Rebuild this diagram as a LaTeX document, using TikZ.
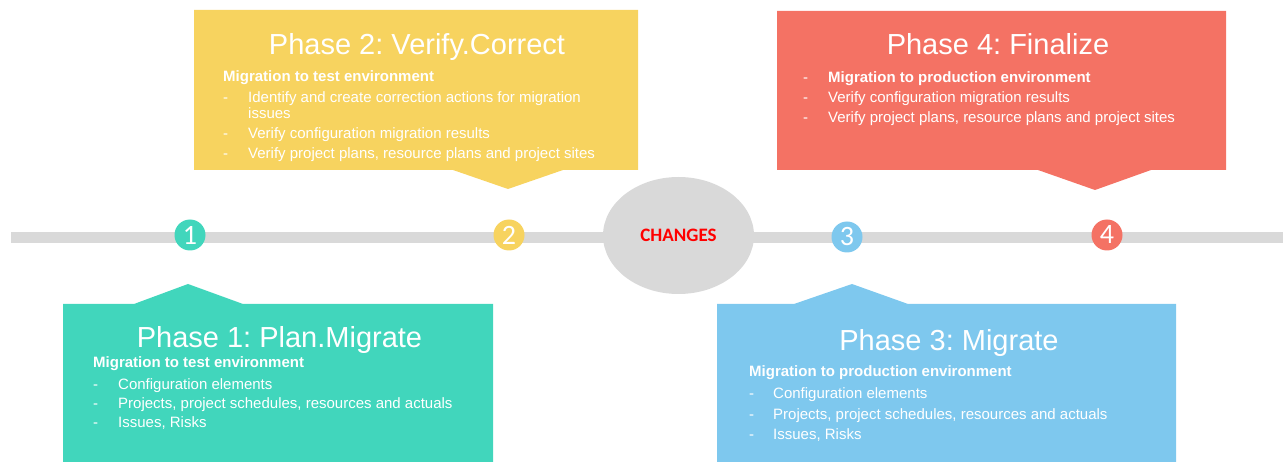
\documentclass[tikz,border=0pt]{standalone}
\usepackage{fontspec}
\setmainfont{Liberation Sans}
\newfontfamily\calib{Carlito}
\usetikzlibrary{shapes.geometric}
\frenchspacing
\definecolor{cgreen}{RGB}{65,214,188}
\definecolor{cyellow}{RGB}{247,211,95}
\definecolor{cred}{RGB}{244,114,100}
\definecolor{cblue}{RGB}{126,200,238}
\definecolor{cgray}{RGB}{217,217,217}
\definecolor{cchg}{RGB}{255,0,0}
\begin{document}
\begin{tikzpicture}[x=1pt,y=-1pt,
  titletxt/.style={text=white, font=\fontsize{29}{32}\selectfont, anchor=base, inner sep=0pt},
  bodytxt/.style={text=white, font=\fontsize{15}{17}\selectfont, anchor=base west, inner sep=0pt},
  boldtxt/.style={text=white, font=\fontsize{15}{17}\selectfont\bfseries, anchor=base west, inner sep=0pt},
  numdot/.style={circle, inner sep=0pt, minimum size=31pt, text=white, font=\calib\fontsize{28}{28}\selectfont},
  timeline/.style={cgray, line width=11pt}
]
\useasboundingbox (0,0) rectangle (1283,462);

% timeline
\coordinate (ls) at (11,237.5);
\coordinate (le) at (1283,237.5);
\draw[timeline] (ls) -- (le);

% boxes
\fill[cyellow] (194,10) -- (638,10) -- (638,170) -- (563,170) -- (508,189) -- (453,170) -- (194,170) -- cycle;
\fill[cred] (777,11) -- (1226,11) -- (1226,170) -- (1151,170) -- (1095,190) -- (1038,170) -- (777,170) -- cycle;
\fill[cgreen] (63,304) -- (134,304) -- (188,284) -- (243,304) -- (493,304) -- (493,462) -- (63,462) -- cycle;
\fill[cblue] (717,304) -- (794,304) -- (852,284) -- (908,304) -- (1176,304) -- (1176,462) -- (717,462) -- cycle;

% changes
\node[ellipse, fill=cgray, minimum width=151pt, minimum height=117pt, inner sep=0pt,
      text=cchg, font=\calib\bfseries\fontsize{19}{19}\selectfont] (chg) at (678.5,235.5) {CHANGES};

% numbers
\node[numdot, fill=cgreen] (n1) at (190,235) {1};
\node[numdot, fill=cyellow] (n2) at (509,235) {2};
\node[numdot, fill=cblue] (n3) at (847,237) {3};
\node[numdot, fill=cred] (n4) at (1107,235) {4};

% Phase 2
\node[titletxt] (t2) at (417,55) {Phase 2: Verify.Correct};
\node[boldtxt] (b2) at (223,82) {Migration to test environment};
\node[bodytxt] (d2a) at (223,103) {-};
\node[bodytxt] (i2a) at (248,103) {Identify and create correction actions for migration};
\node[bodytxt] (i2b) at (248,119) {issues};
\node[bodytxt] (d2c) at (223,139) {-};
\node[bodytxt] (i2c) at (248,139) {Verify configuration migration results};
\node[bodytxt] (d2d) at (223,159) {-};
\node[bodytxt] (i2d) at (248,159) {Verify project plans, resource plans and project sites};

% Phase 4
\node[titletxt] (t4) at (998,55) {Phase 4: Finalize};
\node[bodytxt] (d4a) at (803,83) {-};
\node[boldtxt] (b4) at (828,83) {Migration to production environment};
\node[bodytxt] (d4b) at (803,103) {-};
\node[bodytxt] (i4b) at (828,103) {Verify configuration migration results};
\node[bodytxt] (d4c) at (803,123) {-};
\node[bodytxt] (i4c) at (828,123) {Verify project plans, resource plans and project sites};

% Phase 1
\node[titletxt] (t1) at (279.5,348) {Phase 1: Plan.Migrate};
\node[boldtxt] (b1) at (93,367) {Migration to test environment};
\node[bodytxt] (d1a) at (93,389) {-};
\node[bodytxt] (i1a) at (118,389) {Configuration elements};
\node[bodytxt] (d1b) at (93,408) {-};
\node[bodytxt] (i1b) at (118,408) {Projects, project schedules, resources and actuals};
\node[bodytxt] (d1c) at (93,428) {-};
\node[bodytxt] (i1c) at (118,428) {Issues, Risks};

% Phase 3
\node[titletxt] (t3) at (949,351) {Phase 3: Migrate};
\node[boldtxt] (b3) at (749,377) {Migration to production environment};
\node[bodytxt] (d3a) at (749,399) {-};
\node[bodytxt] (i3a) at (773,399) {Configuration elements};
\node[bodytxt] (d3b) at (749,419) {-};
\node[bodytxt] (i3b) at (773,419) {Projects, project schedules, resources and actuals};
\node[bodytxt] (d3c) at (749,439) {-};
\node[bodytxt] (i3c) at (773,439) {Issues, Risks};
\end{tikzpicture}
\end{document}
